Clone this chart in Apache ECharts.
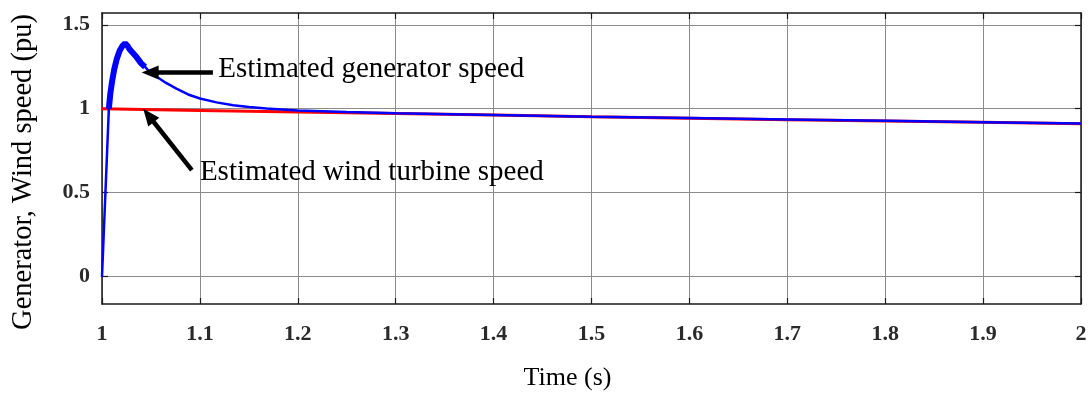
<!DOCTYPE html>
<html><head><meta charset="utf-8">
<script src="https://cdn.jsdelivr.net/npm/echarts@6/dist/echarts.min.js"></script>
<style>html,body{margin:0;padding:0;background:#fff}#c{width:1092px;height:394px}</style>
</head><body><div id="c"></div>
<script>
// ---- data ----
const genTime  = [1.0, 1.0035, 1.007, 1.0085, 1.0105, 1.0125, 1.015, 1.018, 1.021, 1.0235, 1.026, 1.028, 1.030, 1.032, 1.035, 1.040, 1.044, 1.049, 1.056, 1.065, 1.076, 1.088, 1.1, 1.117, 1.134, 1.15, 1.168, 1.2, 1.25, 1.3, 1.4, 1.5, 1.6, 1.7, 1.8, 1.9, 2.0];
const genSpeed = [0, 0.5, 1.0, 1.09, 1.17, 1.235, 1.295, 1.345, 1.375, 1.39, 1.375, 1.355, 1.342, 1.34, 1.31, 1.27, 1.249, 1.217, 1.19, 1.155, 1.12, 1.085, 1.061, 1.038, 1.021, 1.01, 1.001, 0.99, 0.981, 0.973, 0.963, 0.953, 0.945, 0.936, 0.928, 0.92, 0.912];
const turbineTime  = [1.0, 1.1, 1.2, 1.3, 1.4, 1.5, 1.6, 1.7, 1.8, 1.9, 2.0];
const turbineSpeed = [1.0, 0.990, 0.981, 0.971, 0.962, 0.952, 0.944, 0.935, 0.927, 0.919, 0.911];
const bandStart = 1.004, bandEnd = 1.044; // thick (oscillating) part of generator trace
const yTickValues = [0, 0.5, 1, 1.5];
const xTickStep = 0.1;
const xLabel = 'Time (s)';
const yLabel = 'Generator, Wind speed (pu)';
const annotationTexts   = ['Estimated generator speed', 'Estimated wind turbine speed'];
const annotationAnchors = [[1.1187, 1.232], [1.1, 0.623]];
const arrowTails = [[1.1133, 1.2157], [1.0918, 0.6344]];
const arrowTips  = [[1.0405, 1.2157], [1.0421, 1.0]];

const genData = genTime.map((t, i) => [t, genSpeed[i]]);
const bandData = genData.filter(d => d[0] >= bandStart && d[0] <= bandEnd);
const turbData = turbineTime.map((t, i) => [t, turbineSpeed[i]]);

const chart = echarts.init(document.getElementById('c'), null, {renderer: 'canvas'});
const labelFont = {fontFamily: 'Liberation Serif', fontWeight: 'bold', fontSize: 22, color: '#2a2a2a'};
const xMin = 1, xMax = 2, yMin = -0.1625, yMax = 1.57;
const gridLine = {show: true, lineStyle: {color: '#8c8c8c', width: 1}};
const frameLine = {show: true, onZero: false, lineStyle: {color: '#1a1a1a', width: 1.5}};
chart.setOption({
  animation: false,
  grid: {left: 102, right: 11, top: 13, bottom: 90, show: false},
  xAxis: [
    {type: 'value', min: xMin, max: xMax, interval: xTickStep, axisLine: frameLine,
     axisTick: {inside: true, length: 6, lineStyle: {color: '#1a1a1a', width: 1.2}},
     axisLabel: Object.assign({margin: 19, formatter: v => String(Math.round(v * 10) / 10)}, labelFont),
     splitLine: gridLine},
    {type: 'value', position: 'top', min: xMin, max: xMax, interval: xTickStep, axisLine: frameLine,
     axisTick: {inside: true, length: 6, lineStyle: {color: '#1a1a1a', width: 1.2}},
     axisLabel: {show: false}, splitLine: {show: false}}
  ],
  yAxis: [
    {type: 'value', min: yMin, max: yMax, axisLine: frameLine,
     axisTick: {inside: true, length: 6, customValues: yTickValues, lineStyle: {color: '#1a1a1a', width: 1.2}},
     axisLabel: Object.assign({margin: 12, customValues: yTickValues, padding: [4, 0, 0, 0], formatter: v => String(v)}, labelFont),
     splitLine: gridLine},
    {type: 'value', position: 'right', min: yMin, max: yMax, axisLine: frameLine,
     axisTick: {inside: true, length: 6, customValues: yTickValues, lineStyle: {color: '#1a1a1a', width: 1.2}},
     axisLabel: {show: false, customValues: yTickValues}, splitLine: {show: false}}
  ],
  series: [
    {type: 'line', data: turbData, showSymbol: false, silent: true, z: 2,
     lineStyle: {color: '#ff0000', width: 3}},
    {type: 'line', data: genData, showSymbol: false, silent: true, z: 3,
     lineStyle: {color: '#0000ff', width: 2.5}},
    {type: 'line', data: bandData, showSymbol: false, silent: true, z: 3,
     lineStyle: {color: '#0000ff', width: 6}}
  ]
});

function px(p) { return chart.convertToPixel({xAxisIndex: 0, yAxisIndex: 0}, p); }
const graphics = [];
const headLen = 17, headHalf = 7;
arrowTails.forEach((tail, i) => {
  const a = px(tail), b = px(arrowTips[i]);
  const dx = b[0] - a[0], dy = b[1] - a[1];
  const L = Math.hypot(dx, dy), ux = dx / L, uy = dy / L;
  const bx = b[0] - ux * headLen, by = b[1] - uy * headLen;
  graphics.push({type: 'line', silent: true, z: 10,
    shape: {x1: a[0], y1: a[1], x2: bx + ux * 2, y2: by + uy * 2},
    style: {stroke: '#000', lineWidth: 4.5}});
  graphics.push({type: 'polygon', silent: true, z: 10,
    shape: {points: [[b[0], b[1]], [bx - uy * headHalf, by + ux * headHalf], [bx + uy * headHalf, by - ux * headHalf]]},
    style: {fill: '#000'}});
});
annotationTexts.forEach((t, i) => {
  const p = px(annotationAnchors[i]);
  graphics.push({type: 'text', silent: true, z: 10, x: p[0], y: p[1],
    style: {text: t, font: '29px "Liberation Serif"', fill: '#000', align: 'left', verticalAlign: 'middle'}});
});
graphics.push({type: 'text', silent: true, x: 567.5, y: 378,
  style: {text: xLabel, font: '26px "Liberation Serif"', fill: '#000', align: 'center', verticalAlign: 'middle'}});
graphics.push({type: 'text', silent: true, x: 23.5, y: 172, rotation: Math.PI / 2,
  style: {text: yLabel, font: '28.5px "Liberation Serif"', fill: '#000', align: 'center', verticalAlign: 'middle'}});
chart.setOption({graphic: graphics});
</script></body></html>
